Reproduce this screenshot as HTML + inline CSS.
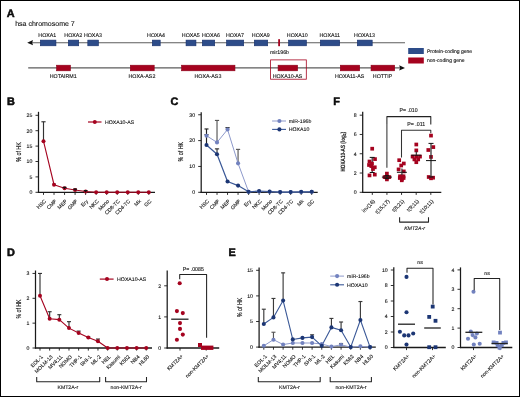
<!DOCTYPE html>
<html><head><meta charset="utf-8"><style>
html,body{margin:0;padding:0;background:#fff;}
body{width:520px;height:397px;overflow:hidden;}
.fig{position:relative;width:518px;height:395px;border:1px solid #000;background:#fff;}
svg{position:absolute;left:-1px;top:-1px;will-change:transform;}
text{font-family:"Liberation Sans",sans-serif;fill:#111;text-rendering:geometricPrecision;stroke:#1a1a1a;stroke-width:0.12px;}
</style></head><body><div class="fig">
<svg width="520" height="397" viewBox="0 0 520 397">
<text x="6.8" y="16.8" font-size="10.9" font-weight="bold" fill="#000" style="stroke:#000;stroke-width:0.5px;stroke-linejoin:round">A</text>
<text x="15.2" y="26" font-size="7" fill="#333">hsa chromosome 7</text>
<line x1="31" y1="42.7" x2="405" y2="42.7" stroke="#5c5c5c" stroke-width="1.15"/>
<path d="M27.2,42.7 L33,40.1 L32.2,42.7 L33,45.3 Z" fill="#111" stroke="none" stroke-width="1"/>
<rect x="40.3" y="40.1" width="15.65" height="5.7" fill="#2d4c89" stroke="#17306c" stroke-width="0.6"/>
<text x="47.32" y="37.3" font-size="5.3" text-anchor="middle" fill="#222">HOXA1</text>
<rect x="68.3" y="40.1" width="10.4" height="5.7" fill="#2d4c89" stroke="#17306c" stroke-width="0.6"/>
<text x="73.3" y="37.3" font-size="5.3" text-anchor="middle" fill="#222">HOXA2</text>
<rect x="87.8" y="40.1" width="10.65" height="5.7" fill="#2d4c89" stroke="#17306c" stroke-width="0.6"/>
<text x="92.92" y="37.3" font-size="5.3" text-anchor="middle" fill="#222">HOXA3</text>
<rect x="152.3" y="40.1" width="7.9" height="5.7" fill="#2d4c89" stroke="#17306c" stroke-width="0.6"/>
<text x="156.05" y="37.3" font-size="5.3" text-anchor="middle" fill="#222">HOXA4</text>
<rect x="186.05" y="40.1" width="9.9" height="5.7" fill="#2d4c89" stroke="#17306c" stroke-width="0.6"/>
<text x="190.8" y="37.3" font-size="5.3" text-anchor="middle" fill="#222">HOXA5</text>
<rect x="202.3" y="40.1" width="12.4" height="5.7" fill="#2d4c89" stroke="#17306c" stroke-width="0.6"/>
<text x="211" y="37.3" font-size="5.3" text-anchor="middle" fill="#222">HOXA6</text>
<rect x="226.55" y="40.1" width="17.15" height="5.7" fill="#2d4c89" stroke="#17306c" stroke-width="0.6"/>
<text x="234.93" y="37.3" font-size="5.3" text-anchor="middle" fill="#222">HOXA7</text>
<rect x="254.3" y="40.1" width="13.4" height="5.7" fill="#2d4c89" stroke="#17306c" stroke-width="0.6"/>
<text x="260.8" y="37.3" font-size="5.3" text-anchor="middle" fill="#222">HOXA9</text>
<rect x="288.55" y="40.1" width="17.9" height="5.7" fill="#2d4c89" stroke="#17306c" stroke-width="0.6"/>
<text x="297.3" y="37.3" font-size="5.3" text-anchor="middle" fill="#222">HOXA10</text>
<rect x="320.3" y="40.1" width="19.4" height="5.7" fill="#2d4c89" stroke="#17306c" stroke-width="0.6"/>
<text x="329.8" y="37.3" font-size="5.3" text-anchor="middle" fill="#222">HOXA11</text>
<rect x="357.3" y="40.1" width="14.9" height="5.7" fill="#2d4c89" stroke="#17306c" stroke-width="0.6"/>
<text x="364.55" y="37.3" font-size="5.3" text-anchor="middle" fill="#222">HOXA13</text>
<rect x="278.2" y="39.2" width="1.8" height="7" fill="#a5031f"/>
<text x="279.5" y="54.4" font-size="5.3" text-anchor="middle" fill="#222">mir196b</text>
<line x1="28.2" y1="67.9" x2="400" y2="67.9" stroke="#5c5c5c" stroke-width="1.15"/>
<path d="M405,67.9 L399.2,65.3 L400,67.9 L399.2,70.5 Z" fill="#111" stroke="none" stroke-width="1"/>
<rect x="56.55" y="65.2" width="13.9" height="5.6" fill="#a5031f" stroke="#8c0019" stroke-width="0.6"/>
<text x="63.2" y="77.6" font-size="5.3" text-anchor="middle" fill="#222">HOTAIRM1</text>
<rect x="130.3" y="65.2" width="23.9" height="5.6" fill="#a5031f" stroke="#8c0019" stroke-width="0.6"/>
<text x="141.95" y="77.6" font-size="5.3" text-anchor="middle" fill="#222">HOXA-AS2</text>
<rect x="181.55" y="65.2" width="53.4" height="5.6" fill="#a5031f" stroke="#8c0019" stroke-width="0.6"/>
<text x="207.95" y="77.6" font-size="5.3" text-anchor="middle" fill="#222">HOXA-AS3</text>
<rect x="278.1" y="65.2" width="19.5" height="5.6" fill="#a5031f" stroke="#8c0019" stroke-width="0.6"/>
<text x="287.55" y="77.6" font-size="5.3" text-anchor="middle" fill="#222">HOXA10-AS</text>
<rect x="340.3" y="65.2" width="19.4" height="5.6" fill="#a5031f" stroke="#8c0019" stroke-width="0.6"/>
<text x="349.7" y="77.6" font-size="5.3" text-anchor="middle" fill="#222">HOXA11-AS</text>
<rect x="371.05" y="65.2" width="23.65" height="5.6" fill="#a5031f" stroke="#8c0019" stroke-width="0.6"/>
<text x="382.57" y="77.6" font-size="5.3" text-anchor="middle" fill="#222">HOTTIP</text>
<rect x="270.6" y="59.9" width="35.7" height="19.3" fill="none" stroke="#a5031f" stroke-width="0.8"/>
<rect x="408.2" y="48" width="15.6" height="6" fill="#2d4c89"/>
<rect x="408.2" y="57.5" width="15.6" height="6" fill="#a5031f"/>
<text x="427" y="52.9" font-size="5.05" fill="#333">Protein-coding gene</text>
<text x="427" y="62.4" font-size="5.05" fill="#333">non-coding gene</text>
<text x="7" y="104.8" font-size="10.9" font-weight="bold" fill="#000" style="stroke:#000;stroke-width:0.5px;stroke-linejoin:round">B</text>
<line x1="38.5" y1="111.8" x2="38.5" y2="192.9" stroke="#1a1a1a" stroke-width="1.25"/>
<line x1="35.5" y1="192.3" x2="38.5" y2="192.3" stroke="#1a1a1a" stroke-width="0.9"/>
<text x="32.4" y="194.17" font-size="5.2" text-anchor="end">0</text>
<line x1="35.5" y1="176.9" x2="38.5" y2="176.9" stroke="#1a1a1a" stroke-width="0.9"/>
<text x="32.4" y="178.77" font-size="5.2" text-anchor="end">5</text>
<line x1="35.5" y1="161.5" x2="38.5" y2="161.5" stroke="#1a1a1a" stroke-width="0.9"/>
<text x="32.4" y="163.37" font-size="5.2" text-anchor="end">10</text>
<line x1="35.5" y1="146.1" x2="38.5" y2="146.1" stroke="#1a1a1a" stroke-width="0.9"/>
<text x="32.4" y="147.97" font-size="5.2" text-anchor="end">15</text>
<line x1="35.5" y1="130.7" x2="38.5" y2="130.7" stroke="#1a1a1a" stroke-width="0.9"/>
<text x="32.4" y="132.57" font-size="5.2" text-anchor="end">20</text>
<line x1="35.5" y1="115.3" x2="38.5" y2="115.3" stroke="#1a1a1a" stroke-width="0.9"/>
<text x="32.4" y="117.17" font-size="5.2" text-anchor="end">25</text>
<line x1="37.9" y1="192.3" x2="155" y2="192.3" stroke="#1a1a1a" stroke-width="1.3"/>
<line x1="43.5" y1="192.3" x2="43.5" y2="194.9" stroke="#1a1a1a" stroke-width="0.9"/>
<line x1="54.03" y1="192.3" x2="54.03" y2="194.9" stroke="#1a1a1a" stroke-width="0.9"/>
<line x1="64.56" y1="192.3" x2="64.56" y2="194.9" stroke="#1a1a1a" stroke-width="0.9"/>
<line x1="75.09" y1="192.3" x2="75.09" y2="194.9" stroke="#1a1a1a" stroke-width="0.9"/>
<line x1="85.62" y1="192.3" x2="85.62" y2="194.9" stroke="#1a1a1a" stroke-width="0.9"/>
<line x1="96.15" y1="192.3" x2="96.15" y2="194.9" stroke="#1a1a1a" stroke-width="0.9"/>
<line x1="106.68" y1="192.3" x2="106.68" y2="194.9" stroke="#1a1a1a" stroke-width="0.9"/>
<line x1="117.21" y1="192.3" x2="117.21" y2="194.9" stroke="#1a1a1a" stroke-width="0.9"/>
<line x1="127.74" y1="192.3" x2="127.74" y2="194.9" stroke="#1a1a1a" stroke-width="0.9"/>
<line x1="138.27" y1="192.3" x2="138.27" y2="194.9" stroke="#1a1a1a" stroke-width="0.9"/>
<line x1="148.8" y1="192.3" x2="148.8" y2="194.9" stroke="#1a1a1a" stroke-width="0.9"/>
<text x="46.5" y="201.6" font-size="5.2" text-anchor="end" transform="rotate(-45 46.5 201.6)">HSC</text>
<text x="57.03" y="201.6" font-size="5.2" text-anchor="end" transform="rotate(-45 57.03 201.6)">CMP</text>
<text x="67.56" y="201.6" font-size="5.2" text-anchor="end" transform="rotate(-45 67.56 201.6)">MEP</text>
<text x="78.09" y="201.6" font-size="5.2" text-anchor="end" transform="rotate(-45 78.09 201.6)">GMP</text>
<text x="88.62" y="201.6" font-size="5.2" text-anchor="end" transform="rotate(-45 88.62 201.6)">Ery</text>
<text x="99.15" y="201.6" font-size="5.2" text-anchor="end" transform="rotate(-45 99.15 201.6)">NKC</text>
<text x="109.68" y="201.6" font-size="5.2" text-anchor="end" transform="rotate(-45 109.68 201.6)">Mono</text>
<text x="120.21" y="201.6" font-size="5.2" text-anchor="end" transform="rotate(-45 120.21 201.6)">CD8-TC</text>
<text x="130.74" y="201.6" font-size="5.2" text-anchor="end" transform="rotate(-45 130.74 201.6)">CD4-TC</text>
<text x="141.27" y="201.6" font-size="5.2" text-anchor="end" transform="rotate(-45 141.27 201.6)">Mk</text>
<text x="151.8" y="201.6" font-size="5.2" text-anchor="end" transform="rotate(-45 151.8 201.6)">GC</text>
<line x1="43.5" y1="141.17" x2="43.5" y2="121.77" stroke="#333" stroke-width="1.15"/>
<line x1="41.4" y1="121.77" x2="45.6" y2="121.77" stroke="#333" stroke-width="1.15"/>
<line x1="54.03" y1="184.75" x2="54.03" y2="183.68" stroke="#333" stroke-width="1.15"/>
<line x1="52.73" y1="183.68" x2="55.33" y2="183.68" stroke="#333" stroke-width="1.15"/>
<line x1="64.56" y1="188.3" x2="64.56" y2="187.37" stroke="#333" stroke-width="1.15"/>
<line x1="63.26" y1="187.37" x2="65.86" y2="187.37" stroke="#333" stroke-width="1.15"/>
<line x1="75.09" y1="189.99" x2="75.09" y2="189.22" stroke="#333" stroke-width="1.15"/>
<line x1="73.79" y1="189.22" x2="76.39" y2="189.22" stroke="#333" stroke-width="1.15"/>
<polyline points="43.5,141.17 54.03,184.75 64.56,188.3 75.09,189.99 85.62,191.53 96.15,192.3 106.68,192.3 117.21,192.3 127.74,192.3 138.27,192.3 148.8,192.3" stroke="#a5031f" stroke-width="1.1" fill="none" stroke-linejoin="round"/>
<circle cx="43.5" cy="141.17" r="2" fill="#a5031f"/>
<circle cx="54.03" cy="184.75" r="2" fill="#a5031f"/>
<circle cx="64.56" cy="188.3" r="2" fill="#a5031f"/>
<circle cx="75.09" cy="189.99" r="2" fill="#a5031f"/>
<circle cx="85.62" cy="191.53" r="2" fill="#a5031f"/>
<circle cx="96.15" cy="192.3" r="2" fill="#a5031f"/>
<circle cx="106.68" cy="192.3" r="2" fill="#a5031f"/>
<circle cx="117.21" cy="192.3" r="2" fill="#a5031f"/>
<circle cx="127.74" cy="192.3" r="2" fill="#a5031f"/>
<circle cx="138.27" cy="192.3" r="2" fill="#a5031f"/>
<circle cx="148.8" cy="192.3" r="2" fill="#a5031f"/>
<line x1="64.56" y1="189.1" x2="64.56" y2="187.4" stroke="#111" stroke-width="1.1"/>
<line x1="62.66" y1="187.4" x2="66.46" y2="187.4" stroke="#111" stroke-width="1.2"/>
<line x1="75.09" y1="190.79" x2="75.09" y2="189.09" stroke="#111" stroke-width="1.1"/>
<line x1="73.19" y1="189.09" x2="76.99" y2="189.09" stroke="#111" stroke-width="1.2"/>
<line x1="85.62" y1="192.33" x2="85.62" y2="190.63" stroke="#111" stroke-width="1.1"/>
<line x1="83.72" y1="190.63" x2="87.52" y2="190.63" stroke="#111" stroke-width="1.2"/>
<line x1="88" y1="122" x2="101.5" y2="122" stroke="#a5031f" stroke-width="1.2"/>
<circle cx="94.8" cy="122" r="2" fill="#a5031f"/>
<text x="105" y="124" font-size="5.2">HOXA10-AS</text>
<text x="21" y="152" font-size="7" text-anchor="middle" textLength="19.6" lengthAdjust="spacingAndGlyphs" transform="rotate(-90 21 152)" style="stroke-width:0.16px">% of HK</text>
<text x="170.6" y="104.8" font-size="10.9" font-weight="bold" fill="#000" style="stroke:#000;stroke-width:0.5px;stroke-linejoin:round">C</text>
<line x1="201.2" y1="112.2" x2="201.2" y2="192.9" stroke="#1a1a1a" stroke-width="1.25"/>
<line x1="198.2" y1="192.3" x2="201.2" y2="192.3" stroke="#1a1a1a" stroke-width="0.9"/>
<text x="195.1" y="194.17" font-size="5.2" text-anchor="end">0</text>
<line x1="198.2" y1="166.45" x2="201.2" y2="166.45" stroke="#1a1a1a" stroke-width="0.9"/>
<text x="195.1" y="168.32" font-size="5.2" text-anchor="end">10</text>
<line x1="198.2" y1="140.6" x2="201.2" y2="140.6" stroke="#1a1a1a" stroke-width="0.9"/>
<text x="195.1" y="142.47" font-size="5.2" text-anchor="end">20</text>
<line x1="198.2" y1="114.75" x2="201.2" y2="114.75" stroke="#1a1a1a" stroke-width="0.9"/>
<text x="195.1" y="116.62" font-size="5.2" text-anchor="end">30</text>
<line x1="200.6" y1="192.3" x2="317.7" y2="192.3" stroke="#1a1a1a" stroke-width="1.3"/>
<line x1="206.5" y1="192.3" x2="206.5" y2="194.9" stroke="#1a1a1a" stroke-width="0.9"/>
<line x1="217.02" y1="192.3" x2="217.02" y2="194.9" stroke="#1a1a1a" stroke-width="0.9"/>
<line x1="227.54" y1="192.3" x2="227.54" y2="194.9" stroke="#1a1a1a" stroke-width="0.9"/>
<line x1="238.06" y1="192.3" x2="238.06" y2="194.9" stroke="#1a1a1a" stroke-width="0.9"/>
<line x1="248.58" y1="192.3" x2="248.58" y2="194.9" stroke="#1a1a1a" stroke-width="0.9"/>
<line x1="259.1" y1="192.3" x2="259.1" y2="194.9" stroke="#1a1a1a" stroke-width="0.9"/>
<line x1="269.62" y1="192.3" x2="269.62" y2="194.9" stroke="#1a1a1a" stroke-width="0.9"/>
<line x1="280.14" y1="192.3" x2="280.14" y2="194.9" stroke="#1a1a1a" stroke-width="0.9"/>
<line x1="290.66" y1="192.3" x2="290.66" y2="194.9" stroke="#1a1a1a" stroke-width="0.9"/>
<line x1="301.18" y1="192.3" x2="301.18" y2="194.9" stroke="#1a1a1a" stroke-width="0.9"/>
<line x1="311.7" y1="192.3" x2="311.7" y2="194.9" stroke="#1a1a1a" stroke-width="0.9"/>
<text x="209.5" y="201.6" font-size="5.2" text-anchor="end" transform="rotate(-45 209.5 201.6)">HSC</text>
<text x="220.02" y="201.6" font-size="5.2" text-anchor="end" transform="rotate(-45 220.02 201.6)">CMP</text>
<text x="230.54" y="201.6" font-size="5.2" text-anchor="end" transform="rotate(-45 230.54 201.6)">MEP</text>
<text x="241.06" y="201.6" font-size="5.2" text-anchor="end" transform="rotate(-45 241.06 201.6)">GMP</text>
<text x="251.58" y="201.6" font-size="5.2" text-anchor="end" transform="rotate(-45 251.58 201.6)">Ery</text>
<text x="262.1" y="201.6" font-size="5.2" text-anchor="end" transform="rotate(-45 262.1 201.6)">NKC</text>
<text x="272.62" y="201.6" font-size="5.2" text-anchor="end" transform="rotate(-45 272.62 201.6)">Mono</text>
<text x="283.14" y="201.6" font-size="5.2" text-anchor="end" transform="rotate(-45 283.14 201.6)">CD8-TC</text>
<text x="293.66" y="201.6" font-size="5.2" text-anchor="end" transform="rotate(-45 293.66 201.6)">CD4-TC</text>
<text x="304.18" y="201.6" font-size="5.2" text-anchor="end" transform="rotate(-45 304.18 201.6)">Mk</text>
<text x="314.7" y="201.6" font-size="5.2" text-anchor="end" transform="rotate(-45 314.7 201.6)">GC</text>
<line x1="206.5" y1="144.99" x2="206.5" y2="134.65" stroke="#222" stroke-width="1.15"/>
<line x1="204.5" y1="134.65" x2="208.5" y2="134.65" stroke="#222" stroke-width="1.15"/>
<line x1="206.5" y1="135.69" x2="206.5" y2="128.97" stroke="#222" stroke-width="1.15"/>
<line x1="204.5" y1="128.97" x2="208.5" y2="128.97" stroke="#222" stroke-width="1.15"/>
<line x1="217.02" y1="142.41" x2="217.02" y2="120.44" stroke="#555" stroke-width="1.15"/>
<line x1="214.92" y1="120.44" x2="219.12" y2="120.44" stroke="#555" stroke-width="1.15"/>
<line x1="217.02" y1="154.3" x2="217.02" y2="148.87" stroke="#333" stroke-width="1.15"/>
<line x1="214.92" y1="148.87" x2="219.12" y2="148.87" stroke="#333" stroke-width="1.15"/>
<line x1="227.54" y1="129.48" x2="227.54" y2="127.68" stroke="#222" stroke-width="1.15"/>
<line x1="225.44" y1="127.68" x2="229.64" y2="127.68" stroke="#222" stroke-width="1.15"/>
<line x1="238.06" y1="163.35" x2="238.06" y2="149.39" stroke="#555" stroke-width="1.15"/>
<line x1="235.96" y1="149.39" x2="240.16" y2="149.39" stroke="#555" stroke-width="1.15"/>
<polyline points="206.5,135.69 217.02,142.41 227.54,129.48 238.06,163.35 248.58,191.78 259.1,191.52 269.62,191.78 280.14,192.04 290.66,192.04 301.18,192.04 311.7,191.78" stroke="#8d99cb" stroke-width="1" fill="none" stroke-linejoin="round"/>
<polyline points="206.5,144.99 217.02,154.3 227.54,181.44 238.06,185.58 248.58,191.78 259.1,191.01 269.62,191.52 280.14,192.04 290.66,192.04 301.18,191.78 311.7,191.78" stroke="#3a5897" stroke-width="1.2" fill="none" stroke-linejoin="round"/>
<circle cx="206.5" cy="135.69" r="2.05" fill="#7282bf"/>
<circle cx="217.02" cy="142.41" r="2.05" fill="#7282bf"/>
<circle cx="227.54" cy="129.48" r="2.05" fill="#7282bf"/>
<circle cx="238.06" cy="163.35" r="2.05" fill="#7282bf"/>
<circle cx="248.58" cy="191.78" r="2.05" fill="#7282bf"/>
<circle cx="259.1" cy="191.52" r="2.05" fill="#7282bf"/>
<circle cx="269.62" cy="191.78" r="2.05" fill="#7282bf"/>
<circle cx="280.14" cy="192.04" r="2.05" fill="#7282bf"/>
<circle cx="290.66" cy="192.04" r="2.05" fill="#7282bf"/>
<circle cx="301.18" cy="192.04" r="2.05" fill="#7282bf"/>
<circle cx="311.7" cy="191.78" r="2.05" fill="#7282bf"/>
<circle cx="206.5" cy="144.99" r="2.05" fill="#1c3674"/>
<circle cx="217.02" cy="154.3" r="2.05" fill="#1c3674"/>
<circle cx="227.54" cy="181.44" r="2.05" fill="#1c3674"/>
<circle cx="238.06" cy="185.58" r="2.05" fill="#1c3674"/>
<circle cx="248.58" cy="191.78" r="2.05" fill="#1c3674"/>
<circle cx="259.1" cy="191.01" r="2.05" fill="#1c3674"/>
<circle cx="269.62" cy="191.52" r="2.05" fill="#1c3674"/>
<circle cx="280.14" cy="192.04" r="2.05" fill="#1c3674"/>
<circle cx="290.66" cy="192.04" r="2.05" fill="#1c3674"/>
<circle cx="301.18" cy="191.78" r="2.05" fill="#1c3674"/>
<circle cx="311.7" cy="191.78" r="2.05" fill="#1c3674"/>
<line x1="272.1" y1="121" x2="286" y2="121" stroke="#8d99cb" stroke-width="1"/>
<circle cx="279.4" cy="121" r="2.05" fill="#7282bf"/>
<text x="288.8" y="123" font-size="5.2">miR-196b</text>
<line x1="272.1" y1="129.4" x2="286" y2="129.4" stroke="#3a5897" stroke-width="1.1"/>
<circle cx="279.4" cy="129.4" r="2.05" fill="#1c3674"/>
<text x="288.8" y="131.4" font-size="5.2">HOXA10</text>
<text x="183.4" y="151.7" font-size="7" text-anchor="middle" textLength="19.4" lengthAdjust="spacingAndGlyphs" transform="rotate(-90 183.4 151.7)" style="stroke-width:0.16px">% of HK</text>
<text x="333.3" y="104.8" font-size="10.9" font-weight="bold" fill="#000" style="stroke:#000;stroke-width:0.5px;stroke-linejoin:round">F</text>
<line x1="362.7" y1="111.8" x2="362.7" y2="192.9" stroke="#1a1a1a" stroke-width="1.25"/>
<line x1="359.7" y1="192.3" x2="362.7" y2="192.3" stroke="#1a1a1a" stroke-width="0.9"/>
<text x="356.6" y="194.17" font-size="5.2" text-anchor="end">0</text>
<line x1="359.7" y1="173.02" x2="362.7" y2="173.02" stroke="#1a1a1a" stroke-width="0.9"/>
<text x="356.6" y="174.89" font-size="5.2" text-anchor="end">2</text>
<line x1="359.7" y1="153.74" x2="362.7" y2="153.74" stroke="#1a1a1a" stroke-width="0.9"/>
<text x="356.6" y="155.61" font-size="5.2" text-anchor="end">4</text>
<line x1="359.7" y1="134.46" x2="362.7" y2="134.46" stroke="#1a1a1a" stroke-width="0.9"/>
<text x="356.6" y="136.33" font-size="5.2" text-anchor="end">6</text>
<line x1="359.7" y1="115.18" x2="362.7" y2="115.18" stroke="#1a1a1a" stroke-width="0.9"/>
<text x="356.6" y="117.05" font-size="5.2" text-anchor="end">8</text>
<line x1="362.1" y1="192.3" x2="441.3" y2="192.3" stroke="#1a1a1a" stroke-width="1.3"/>
<line x1="372.3" y1="192.3" x2="372.3" y2="194.9" stroke="#1a1a1a" stroke-width="0.9"/>
<line x1="386.93" y1="192.3" x2="386.93" y2="194.9" stroke="#1a1a1a" stroke-width="0.9"/>
<line x1="401.56" y1="192.3" x2="401.56" y2="194.9" stroke="#1a1a1a" stroke-width="0.9"/>
<line x1="416.19" y1="192.3" x2="416.19" y2="194.9" stroke="#1a1a1a" stroke-width="0.9"/>
<line x1="430.82" y1="192.3" x2="430.82" y2="194.9" stroke="#1a1a1a" stroke-width="0.9"/>
<text x="375.3" y="201.6" font-size="5.2" text-anchor="end" transform="rotate(-45 375.3 201.6)">inv(16)</text>
<text x="389.93" y="201.6" font-size="5.2" text-anchor="end" transform="rotate(-45 389.93 201.6)">t(15;17)</text>
<text x="404.56" y="201.6" font-size="5.2" text-anchor="end" transform="rotate(-45 404.56 201.6)">t(8;21)</text>
<text x="419.19" y="201.6" font-size="5.2" text-anchor="end" transform="rotate(-45 419.19 201.6)">t(9;11)</text>
<text x="433.82" y="201.6" font-size="5.2" text-anchor="end" transform="rotate(-45 433.82 201.6)">t(10;11)</text>
<polyline points="386.9,124 386.9,116.6 430.8,116.6 430.8,124.6" stroke="#222" stroke-width="1.05" fill="none" stroke-linejoin="round"/>
<polyline points="401.5,157.6 401.5,130.3 430.8,130.3 430.8,133.2" stroke="#333" stroke-width="1.05" fill="none" stroke-linejoin="round"/>
<line x1="386.9" y1="124" x2="386.9" y2="167.8" stroke="#333" stroke-width="1.05"/>
<text x="408.6" y="112.4" font-size="5.8" text-anchor="middle" textLength="18" lengthAdjust="spacingAndGlyphs">P= .010</text>
<text x="416.2" y="126.1" font-size="5.8" text-anchor="middle" textLength="18" lengthAdjust="spacingAndGlyphs">P= .011</text>
<line x1="372.2" y1="172.5" x2="372.2" y2="157.4" stroke="#2a2a2a" stroke-width="1.2"/>
<rect x="370.35" y="146.85" width="3.7" height="3.7" fill="#a5031f"/>
<rect x="373.15" y="157.25" width="3.7" height="3.7" fill="#a5031f"/>
<rect x="367.65" y="159.65" width="3.7" height="3.7" fill="#a5031f"/>
<rect x="367.15" y="163.15" width="3.7" height="3.7" fill="#a5031f"/>
<rect x="369.45" y="164.25" width="3.7" height="3.7" fill="#a5031f"/>
<rect x="372.95" y="165.45" width="3.7" height="3.7" fill="#a5031f"/>
<rect x="371.15" y="167.15" width="3.7" height="3.7" fill="#a5031f"/>
<rect x="370.15" y="161.65" width="3.7" height="3.7" fill="#a5031f"/>
<rect x="367.65" y="173.55" width="3.7" height="3.7" fill="#a5031f"/>
<rect x="372.95" y="172.75" width="3.7" height="3.7" fill="#a5031f"/>
<rect x="385.05" y="171.75" width="3.7" height="3.7" fill="#a5031f"/>
<rect x="382.75" y="175.25" width="3.7" height="3.7" fill="#a5031f"/>
<rect x="387.45" y="175.25" width="3.7" height="3.7" fill="#a5031f"/>
<rect x="385.05" y="177.55" width="3.7" height="3.7" fill="#a5031f"/>
<rect x="385.05" y="175.65" width="3.7" height="3.7" fill="#a5031f"/>
<rect x="397.35" y="158.35" width="3.7" height="3.7" fill="#a5031f"/>
<rect x="401.95" y="161.65" width="3.7" height="3.7" fill="#a5031f"/>
<rect x="399.35" y="163.65" width="3.7" height="3.7" fill="#a5031f"/>
<rect x="396.75" y="167.55" width="3.7" height="3.7" fill="#a5031f"/>
<rect x="401.95" y="169.55" width="3.7" height="3.7" fill="#a5031f"/>
<rect x="398.15" y="174.45" width="3.7" height="3.7" fill="#a5031f"/>
<rect x="401.65" y="174.45" width="3.7" height="3.7" fill="#a5031f"/>
<rect x="399.95" y="174.65" width="3.7" height="3.7" fill="#a5031f"/>
<rect x="399.95" y="177.15" width="3.7" height="3.7" fill="#a5031f"/>
<rect x="399.95" y="178.45" width="3.7" height="3.7" fill="#a5031f"/>
<rect x="397.95" y="176.15" width="3.7" height="3.7" fill="#a5031f"/>
<rect x="401.75" y="176.15" width="3.7" height="3.7" fill="#a5031f"/>
<rect x="414.45" y="142.65" width="3.7" height="3.7" fill="#a5031f"/>
<rect x="414.45" y="148.55" width="3.7" height="3.7" fill="#a5031f"/>
<rect x="410.75" y="154.75" width="3.7" height="3.7" fill="#a5031f"/>
<rect x="414.45" y="154.75" width="3.7" height="3.7" fill="#a5031f"/>
<rect x="418.15" y="154.75" width="3.7" height="3.7" fill="#a5031f"/>
<rect x="412.55" y="157.55" width="3.7" height="3.7" fill="#a5031f"/>
<rect x="416.35" y="157.55" width="3.7" height="3.7" fill="#a5031f"/>
<rect x="414.45" y="160.35" width="3.7" height="3.7" fill="#a5031f"/>
<rect x="429.15" y="133.75" width="3.7" height="3.7" fill="#a5031f"/>
<rect x="431.45" y="145.25" width="3.7" height="3.7" fill="#a5031f"/>
<rect x="426.45" y="148.15" width="3.7" height="3.7" fill="#a5031f"/>
<rect x="429.15" y="155.05" width="3.7" height="3.7" fill="#a5031f"/>
<rect x="426.85" y="175.15" width="3.7" height="3.7" fill="#a5031f"/>
<rect x="431.25" y="175.85" width="3.7" height="3.7" fill="#a5031f"/>
<rect x="429.15" y="176.45" width="3.7" height="3.7" fill="#a5031f"/>
<line x1="386.9" y1="178.6" x2="386.9" y2="175.6" stroke="#2a2a2a" stroke-width="1.2"/>
<line x1="384.4" y1="175.6" x2="389.4" y2="175.6" stroke="#111" stroke-width="1"/>
<line x1="384.4" y1="178.6" x2="389.4" y2="178.6" stroke="#111" stroke-width="1"/>
<line x1="381.9" y1="177.1" x2="391.9" y2="177.1" stroke="#111" stroke-width="1"/>
<line x1="431" y1="177" x2="431" y2="143.4" stroke="#2a2a2a" stroke-width="1.2"/>
<line x1="428.5" y1="143.4" x2="433.5" y2="143.4" stroke="#111" stroke-width="1"/>
<line x1="428.5" y1="177" x2="433.5" y2="177" stroke="#111" stroke-width="1"/>
<line x1="426" y1="160.6" x2="436" y2="160.6" stroke="#111" stroke-width="1"/>
<line x1="396.9" y1="172.3" x2="406.9" y2="172.3" stroke="#111" stroke-width="1"/>
<line x1="401.9" y1="168.5" x2="401.9" y2="175" stroke="#2a2a2a" stroke-width="1.1"/>
<line x1="411.3" y1="155.2" x2="421.3" y2="155.2" stroke="#111" stroke-width="1"/>
<line x1="416.3" y1="151.5" x2="416.3" y2="155" stroke="#2a2a2a" stroke-width="1.1"/>
<line x1="369.7" y1="157.4" x2="374.7" y2="157.4" stroke="#111" stroke-width="1"/>
<line x1="369.7" y1="172.5" x2="374.7" y2="172.5" stroke="#111" stroke-width="1"/>
<text x="345.3" y="151.7" font-size="6.2" text-anchor="middle" font-weight="bold" textLength="39.6" lengthAdjust="spacingAndGlyphs" transform="rotate(-90 345.3 151.7)">HOXA10-AS (log<tspan font-size="4.2" dy="1.2">2</tspan><tspan dy="-1.2">)</tspan></text>
<polyline points="399.6,217.3 399.6,222.1 428.5,222.1 428.5,217.3" stroke="#222" stroke-width="1.05" fill="none" stroke-linejoin="round"/>
<text x="414.5" y="230.1" font-size="5.2" text-anchor="middle" font-style="italic">KMT2A-r</text>
<text x="7" y="256" font-size="10.9" font-weight="bold" fill="#000" style="stroke:#000;stroke-width:0.5px;stroke-linejoin:round">D</text>
<line x1="35.5" y1="270.5" x2="35.5" y2="348.6" stroke="#1a1a1a" stroke-width="1.25"/>
<line x1="32.5" y1="348" x2="35.5" y2="348" stroke="#1a1a1a" stroke-width="0.9"/>
<text x="29.4" y="349.87" font-size="5.2" text-anchor="end">0</text>
<line x1="32.5" y1="323.15" x2="35.5" y2="323.15" stroke="#1a1a1a" stroke-width="0.9"/>
<text x="29.4" y="325.02" font-size="5.2" text-anchor="end">1</text>
<line x1="32.5" y1="298.3" x2="35.5" y2="298.3" stroke="#1a1a1a" stroke-width="0.9"/>
<text x="29.4" y="300.17" font-size="5.2" text-anchor="end">2</text>
<line x1="32.5" y1="273.45" x2="35.5" y2="273.45" stroke="#1a1a1a" stroke-width="0.9"/>
<text x="29.4" y="275.32" font-size="5.2" text-anchor="end">3</text>
<line x1="34.9" y1="348" x2="152" y2="348" stroke="#1a1a1a" stroke-width="1.3"/>
<line x1="40" y1="348" x2="40" y2="350.6" stroke="#1a1a1a" stroke-width="0.9"/>
<line x1="49.66" y1="348" x2="49.66" y2="350.6" stroke="#1a1a1a" stroke-width="0.9"/>
<line x1="59.32" y1="348" x2="59.32" y2="350.6" stroke="#1a1a1a" stroke-width="0.9"/>
<line x1="68.98" y1="348" x2="68.98" y2="350.6" stroke="#1a1a1a" stroke-width="0.9"/>
<line x1="78.64" y1="348" x2="78.64" y2="350.6" stroke="#1a1a1a" stroke-width="0.9"/>
<line x1="88.3" y1="348" x2="88.3" y2="350.6" stroke="#1a1a1a" stroke-width="0.9"/>
<line x1="97.96" y1="348" x2="97.96" y2="350.6" stroke="#1a1a1a" stroke-width="0.9"/>
<line x1="107.62" y1="348" x2="107.62" y2="350.6" stroke="#1a1a1a" stroke-width="0.9"/>
<line x1="117.28" y1="348" x2="117.28" y2="350.6" stroke="#1a1a1a" stroke-width="0.9"/>
<line x1="126.94" y1="348" x2="126.94" y2="350.6" stroke="#1a1a1a" stroke-width="0.9"/>
<line x1="136.6" y1="348" x2="136.6" y2="350.6" stroke="#1a1a1a" stroke-width="0.9"/>
<line x1="146.26" y1="348" x2="146.26" y2="350.6" stroke="#1a1a1a" stroke-width="0.9"/>
<text x="43.4" y="357.2" font-size="5.2" text-anchor="end" transform="rotate(-45 43.4 357.2)">EOL-1</text>
<text x="53.06" y="357.2" font-size="5.2" text-anchor="end" transform="rotate(-45 53.06 357.2)">MOLM-13</text>
<text x="62.72" y="357.2" font-size="5.2" text-anchor="end" transform="rotate(-45 62.72 357.2)">MV4;11</text>
<text x="72.38" y="357.2" font-size="5.2" text-anchor="end" transform="rotate(-45 72.38 357.2)">NOMO</text>
<text x="82.04" y="357.2" font-size="5.2" text-anchor="end" transform="rotate(-45 82.04 357.2)">THP-1</text>
<text x="91.7" y="357.2" font-size="5.2" text-anchor="end" transform="rotate(-45 91.7 357.2)">SHI-1</text>
<text x="101.36" y="357.2" font-size="5.2" text-anchor="end" transform="rotate(-45 101.36 357.2)">ML-2</text>
<text x="111.02" y="357.2" font-size="5.2" text-anchor="end" transform="rotate(-45 111.02 357.2)">HEL</text>
<text x="120.68" y="357.2" font-size="5.2" text-anchor="end" transform="rotate(-45 120.68 357.2)">Kasumi</text>
<text x="130.34" y="357.2" font-size="5.2" text-anchor="end" transform="rotate(-45 130.34 357.2)">K562</text>
<text x="140" y="357.2" font-size="5.2" text-anchor="end" transform="rotate(-45 140 357.2)">NB4</text>
<text x="149.66" y="357.2" font-size="5.2" text-anchor="end" transform="rotate(-45 149.66 357.2)">HL60</text>
<line x1="40" y1="295.81" x2="40" y2="273.45" stroke="#333" stroke-width="1.15"/>
<line x1="38" y1="273.45" x2="42" y2="273.45" stroke="#333" stroke-width="1.15"/>
<line x1="49.66" y1="318.68" x2="49.66" y2="311.72" stroke="#333" stroke-width="1.15"/>
<line x1="47.66" y1="311.72" x2="51.66" y2="311.72" stroke="#333" stroke-width="1.15"/>
<line x1="59.32" y1="319.67" x2="59.32" y2="314.7" stroke="#333" stroke-width="1.15"/>
<line x1="57.32" y1="314.7" x2="61.32" y2="314.7" stroke="#333" stroke-width="1.15"/>
<line x1="68.98" y1="328.12" x2="68.98" y2="321.66" stroke="#333" stroke-width="1.15"/>
<line x1="66.98" y1="321.66" x2="70.98" y2="321.66" stroke="#333" stroke-width="1.15"/>
<line x1="78.64" y1="333.09" x2="78.64" y2="331.1" stroke="#333" stroke-width="1.15"/>
<line x1="76.64" y1="331.1" x2="80.64" y2="331.1" stroke="#333" stroke-width="1.15"/>
<line x1="88.3" y1="337.56" x2="88.3" y2="336.82" stroke="#333" stroke-width="1.15"/>
<line x1="86.3" y1="336.82" x2="90.3" y2="336.82" stroke="#333" stroke-width="1.15"/>
<line x1="97.96" y1="341.29" x2="97.96" y2="339.05" stroke="#333" stroke-width="1.15"/>
<line x1="95.96" y1="339.05" x2="99.96" y2="339.05" stroke="#333" stroke-width="1.15"/>
<polyline points="40,295.81 49.66,318.68 59.32,319.67 68.98,328.12 78.64,333.09 88.3,337.56 97.96,341.29 107.62,348 117.28,348 126.94,348 136.6,348 146.26,348" stroke="#a5031f" stroke-width="1.1" fill="none" stroke-linejoin="round"/>
<circle cx="40" cy="295.81" r="2" fill="#a5031f"/>
<circle cx="49.66" cy="318.68" r="2" fill="#a5031f"/>
<circle cx="59.32" cy="319.67" r="2" fill="#a5031f"/>
<circle cx="68.98" cy="328.12" r="2" fill="#a5031f"/>
<circle cx="78.64" cy="333.09" r="2" fill="#a5031f"/>
<circle cx="88.3" cy="337.56" r="2" fill="#a5031f"/>
<circle cx="97.96" cy="341.29" r="2" fill="#a5031f"/>
<circle cx="107.62" cy="348" r="2" fill="#a5031f"/>
<circle cx="117.28" cy="348" r="2" fill="#a5031f"/>
<circle cx="126.94" cy="348" r="2" fill="#a5031f"/>
<circle cx="136.6" cy="348" r="2" fill="#a5031f"/>
<circle cx="146.26" cy="348" r="2" fill="#a5031f"/>
<line x1="99.8" y1="279.1" x2="113.6" y2="279.1" stroke="#a5031f" stroke-width="1.2"/>
<circle cx="107" cy="279.1" r="2" fill="#a5031f"/>
<text x="117.1" y="281" font-size="5.2">HOXA10-AS</text>
<text x="21.1" y="309" font-size="7" text-anchor="middle" textLength="19.2" lengthAdjust="spacingAndGlyphs" transform="rotate(-90 21.1 309)" style="stroke-width:0.16px">% of HK</text>
<polyline points="36.7,376.9 36.7,381.7 99.7,381.7 99.7,376.9" stroke="#222" stroke-width="1.05" fill="none" stroke-linejoin="round"/>
<polyline points="105.6,376.9 105.6,381.7 146.5,381.7 146.5,376.9" stroke="#222" stroke-width="1.05" fill="none" stroke-linejoin="round"/>
<text x="67.8" y="389" font-size="5.2" text-anchor="middle">KMT2A-r</text>
<text x="126.1" y="389" font-size="5.2" text-anchor="middle">non-KMT2A-r</text>
<line x1="167.2" y1="270.4" x2="167.2" y2="348.6" stroke="#1a1a1a" stroke-width="1.25"/>
<line x1="164.2" y1="348" x2="167.2" y2="348" stroke="#1a1a1a" stroke-width="0.9"/>
<text x="161.1" y="349.87" font-size="5.2" text-anchor="end">0</text>
<line x1="164.2" y1="316.9" x2="167.2" y2="316.9" stroke="#1a1a1a" stroke-width="0.9"/>
<text x="161.1" y="318.77" font-size="5.2" text-anchor="end">1</text>
<line x1="164.2" y1="285.8" x2="167.2" y2="285.8" stroke="#1a1a1a" stroke-width="0.9"/>
<text x="161.1" y="287.67" font-size="5.2" text-anchor="end">2</text>
<line x1="166.6" y1="348" x2="219.2" y2="348" stroke="#1a1a1a" stroke-width="1.3"/>
<line x1="180" y1="348" x2="180" y2="350.6" stroke="#1a1a1a" stroke-width="0.9"/>
<line x1="206.2" y1="348" x2="206.2" y2="350.6" stroke="#1a1a1a" stroke-width="0.9"/>
<circle cx="179.7" cy="283.2" r="2.05" fill="#a5031f"/>
<circle cx="176.9" cy="311.1" r="2.05" fill="#a5031f"/>
<circle cx="182.8" cy="313.1" r="2.05" fill="#a5031f"/>
<circle cx="180" cy="323.1" r="2.05" fill="#a5031f"/>
<circle cx="180" cy="328.9" r="2.05" fill="#a5031f"/>
<circle cx="182.8" cy="334.6" r="2.05" fill="#a5031f"/>
<circle cx="176.9" cy="339.7" r="2.05" fill="#a5031f"/>
<line x1="171.2" y1="319.2" x2="188.5" y2="319.2" stroke="#222" stroke-width="1.3"/>
<polyline points="179.7,279.2 179.7,274.5 206.6,274.5 206.6,337.7" stroke="#222" stroke-width="1.05" fill="none" stroke-linejoin="round"/>
<text x="193.3" y="270.5" font-size="5.8" text-anchor="middle" textLength="21" lengthAdjust="spacingAndGlyphs">P= .0085</text>
<rect x="201" y="345.6" width="12.4" height="4.3" fill="#a5031f"/>
<rect x="198" y="343" width="4" height="4" fill="#a5031f"/>
<text x="183.5" y="356.5" font-size="5.2" text-anchor="end" transform="rotate(-45 183.5 356.5)">KMT2A+</text>
<text x="209.2" y="356.5" font-size="5.2" text-anchor="end" transform="rotate(-45 209.2 356.5)">non-KMT2A+</text>
<text x="228.4" y="256" font-size="10.9" font-weight="bold" fill="#000" style="stroke:#000;stroke-width:0.5px;stroke-linejoin:round">E</text>
<line x1="259.1" y1="267.4" x2="259.1" y2="347.7" stroke="#1a1a1a" stroke-width="1.25"/>
<line x1="256.1" y1="347.1" x2="259.1" y2="347.1" stroke="#1a1a1a" stroke-width="0.9"/>
<text x="253" y="348.97" font-size="5.2" text-anchor="end">0</text>
<line x1="256.1" y1="321.5" x2="259.1" y2="321.5" stroke="#1a1a1a" stroke-width="0.9"/>
<text x="253" y="323.37" font-size="5.2" text-anchor="end">5</text>
<line x1="256.1" y1="295.9" x2="259.1" y2="295.9" stroke="#1a1a1a" stroke-width="0.9"/>
<text x="253" y="297.77" font-size="5.2" text-anchor="end">10</text>
<line x1="256.1" y1="270.3" x2="259.1" y2="270.3" stroke="#1a1a1a" stroke-width="0.9"/>
<text x="253" y="272.17" font-size="5.2" text-anchor="end">15</text>
<line x1="258.5" y1="347.1" x2="375.8" y2="347.1" stroke="#1a1a1a" stroke-width="1.3"/>
<line x1="263.8" y1="347.1" x2="263.8" y2="349.7" stroke="#1a1a1a" stroke-width="0.9"/>
<line x1="273.46" y1="347.1" x2="273.46" y2="349.7" stroke="#1a1a1a" stroke-width="0.9"/>
<line x1="283.12" y1="347.1" x2="283.12" y2="349.7" stroke="#1a1a1a" stroke-width="0.9"/>
<line x1="292.78" y1="347.1" x2="292.78" y2="349.7" stroke="#1a1a1a" stroke-width="0.9"/>
<line x1="302.44" y1="347.1" x2="302.44" y2="349.7" stroke="#1a1a1a" stroke-width="0.9"/>
<line x1="312.1" y1="347.1" x2="312.1" y2="349.7" stroke="#1a1a1a" stroke-width="0.9"/>
<line x1="321.76" y1="347.1" x2="321.76" y2="349.7" stroke="#1a1a1a" stroke-width="0.9"/>
<line x1="331.42" y1="347.1" x2="331.42" y2="349.7" stroke="#1a1a1a" stroke-width="0.9"/>
<line x1="341.08" y1="347.1" x2="341.08" y2="349.7" stroke="#1a1a1a" stroke-width="0.9"/>
<line x1="350.74" y1="347.1" x2="350.74" y2="349.7" stroke="#1a1a1a" stroke-width="0.9"/>
<line x1="360.4" y1="347.1" x2="360.4" y2="349.7" stroke="#1a1a1a" stroke-width="0.9"/>
<line x1="370.06" y1="347.1" x2="370.06" y2="349.7" stroke="#1a1a1a" stroke-width="0.9"/>
<text x="267.2" y="356.8" font-size="5.2" text-anchor="end" transform="rotate(-45 267.2 356.8)">EOL-1</text>
<text x="276.86" y="356.8" font-size="5.2" text-anchor="end" transform="rotate(-45 276.86 356.8)">MOLM-13</text>
<text x="286.52" y="356.8" font-size="5.2" text-anchor="end" transform="rotate(-45 286.52 356.8)">MV4;11</text>
<text x="296.18" y="356.8" font-size="5.2" text-anchor="end" transform="rotate(-45 296.18 356.8)">NOMO</text>
<text x="305.84" y="356.8" font-size="5.2" text-anchor="end" transform="rotate(-45 305.84 356.8)">THP-1</text>
<text x="315.5" y="356.8" font-size="5.2" text-anchor="end" transform="rotate(-45 315.5 356.8)">SHI-1</text>
<text x="325.16" y="356.8" font-size="5.2" text-anchor="end" transform="rotate(-45 325.16 356.8)">ML-2</text>
<text x="334.82" y="356.8" font-size="5.2" text-anchor="end" transform="rotate(-45 334.82 356.8)">HEL</text>
<text x="344.48" y="356.8" font-size="5.2" text-anchor="end" transform="rotate(-45 344.48 356.8)">Kasumi</text>
<text x="354.14" y="356.8" font-size="5.2" text-anchor="end" transform="rotate(-45 354.14 356.8)">K562</text>
<text x="363.8" y="356.8" font-size="5.2" text-anchor="end" transform="rotate(-45 363.8 356.8)">NB4</text>
<text x="373.46" y="356.8" font-size="5.2" text-anchor="end" transform="rotate(-45 373.46 356.8)">HL60</text>
<line x1="263.8" y1="324.06" x2="263.8" y2="309.21" stroke="#3a3a3a" stroke-width="1.15"/>
<line x1="261.8" y1="309.21" x2="265.8" y2="309.21" stroke="#3a3a3a" stroke-width="1.15"/>
<line x1="273.46" y1="317.4" x2="273.46" y2="298.46" stroke="#3a3a3a" stroke-width="1.15"/>
<line x1="271.46" y1="298.46" x2="275.46" y2="298.46" stroke="#3a3a3a" stroke-width="1.15"/>
<line x1="283.12" y1="300.51" x2="283.12" y2="272.86" stroke="#3a3a3a" stroke-width="1.15"/>
<line x1="281.12" y1="272.86" x2="285.12" y2="272.86" stroke="#3a3a3a" stroke-width="1.15"/>
<line x1="312.1" y1="337.12" x2="312.1" y2="334.81" stroke="#3a3a3a" stroke-width="1.15"/>
<line x1="310.1" y1="334.81" x2="314.1" y2="334.81" stroke="#3a3a3a" stroke-width="1.15"/>
<line x1="331.42" y1="327.39" x2="331.42" y2="318.43" stroke="#3a3a3a" stroke-width="1.15"/>
<line x1="329.42" y1="318.43" x2="333.42" y2="318.43" stroke="#3a3a3a" stroke-width="1.15"/>
<line x1="341.08" y1="330.2" x2="341.08" y2="322.01" stroke="#3a3a3a" stroke-width="1.15"/>
<line x1="339.08" y1="322.01" x2="343.08" y2="322.01" stroke="#3a3a3a" stroke-width="1.15"/>
<line x1="360.4" y1="319.96" x2="360.4" y2="301.53" stroke="#3a3a3a" stroke-width="1.15"/>
<line x1="358.4" y1="301.53" x2="362.4" y2="301.53" stroke="#3a3a3a" stroke-width="1.15"/>
<line x1="273.46" y1="339.68" x2="273.46" y2="332.25" stroke="#555" stroke-width="1.15"/>
<line x1="271.46" y1="332.25" x2="275.46" y2="332.25" stroke="#555" stroke-width="1.15"/>
<line x1="341.08" y1="344.8" x2="341.08" y2="343.52" stroke="#555" stroke-width="1.15"/>
<line x1="339.08" y1="343.52" x2="343.08" y2="343.52" stroke="#555" stroke-width="1.15"/>
<polyline points="263.8,345.82 273.46,339.68 283.12,344.54 292.78,343 302.44,343 312.1,343 321.76,344.03 331.42,346.59 341.08,344.8 350.74,347.1 360.4,346.33 370.06,347.1" stroke="#8d99cb" stroke-width="1" fill="none" stroke-linejoin="round"/>
<polyline points="263.8,324.06 273.46,317.4 283.12,300.51 292.78,339.42 302.44,337.88 312.1,337.12 321.76,345.82 331.42,327.39 341.08,330.2 350.74,347.1 360.4,319.96 370.06,347.1" stroke="#3a5897" stroke-width="1.1" fill="none" stroke-linejoin="round"/>
<circle cx="263.8" cy="345.82" r="2.05" fill="#7282bf"/>
<circle cx="273.46" cy="339.68" r="2.05" fill="#7282bf"/>
<circle cx="283.12" cy="344.54" r="2.05" fill="#7282bf"/>
<circle cx="292.78" cy="343" r="2.05" fill="#7282bf"/>
<circle cx="302.44" cy="343" r="2.05" fill="#7282bf"/>
<circle cx="312.1" cy="343" r="2.05" fill="#7282bf"/>
<circle cx="321.76" cy="344.03" r="2.05" fill="#7282bf"/>
<circle cx="331.42" cy="346.59" r="2.05" fill="#7282bf"/>
<circle cx="341.08" cy="344.8" r="2.05" fill="#7282bf"/>
<circle cx="350.74" cy="347.1" r="2.05" fill="#7282bf"/>
<circle cx="360.4" cy="346.33" r="2.05" fill="#7282bf"/>
<circle cx="370.06" cy="347.1" r="2.05" fill="#7282bf"/>
<circle cx="263.8" cy="324.06" r="2.05" fill="#1c3674"/>
<circle cx="273.46" cy="317.4" r="2.05" fill="#1c3674"/>
<circle cx="283.12" cy="300.51" r="2.05" fill="#1c3674"/>
<circle cx="292.78" cy="339.42" r="2.05" fill="#1c3674"/>
<circle cx="302.44" cy="337.88" r="2.05" fill="#1c3674"/>
<circle cx="312.1" cy="337.12" r="2.05" fill="#1c3674"/>
<circle cx="321.76" cy="345.82" r="2.05" fill="#1c3674"/>
<circle cx="331.42" cy="327.39" r="2.05" fill="#1c3674"/>
<circle cx="341.08" cy="330.2" r="2.05" fill="#1c3674"/>
<circle cx="350.74" cy="347.1" r="2.05" fill="#1c3674"/>
<circle cx="360.4" cy="319.96" r="2.05" fill="#1c3674"/>
<circle cx="370.06" cy="347.1" r="2.05" fill="#1c3674"/>
<line x1="330.2" y1="276.1" x2="344" y2="276.1" stroke="#8d99cb" stroke-width="1"/>
<circle cx="337.1" cy="276.1" r="2.05" fill="#7282bf"/>
<text x="347.1" y="278.1" font-size="5.2">miR-196b</text>
<line x1="330.2" y1="284.8" x2="344" y2="284.8" stroke="#3a5897" stroke-width="1.1"/>
<circle cx="337.1" cy="284.8" r="2.05" fill="#1c3674"/>
<text x="347.1" y="286.8" font-size="5.2">HOXA10</text>
<text x="241.6" y="307.4" font-size="7" text-anchor="middle" textLength="19.4" lengthAdjust="spacingAndGlyphs" transform="rotate(-90 241.6 307.4)" style="stroke-width:0.16px">% of HK</text>
<polyline points="258.3,376.9 258.3,381.7 320.2,381.7 320.2,376.9" stroke="#222" stroke-width="1.05" fill="none" stroke-linejoin="round"/>
<polyline points="330.2,376.9 330.2,381.7 371.4,381.7 371.4,376.9" stroke="#222" stroke-width="1.05" fill="none" stroke-linejoin="round"/>
<text x="289.4" y="389" font-size="5.2" text-anchor="middle">KMT2A-r</text>
<text x="351" y="389" font-size="5.2" text-anchor="middle">non-KMT2A-r</text>
<line x1="393.8" y1="267.2" x2="393.8" y2="348.1" stroke="#1a1a1a" stroke-width="1.25"/>
<line x1="390.8" y1="347.5" x2="393.8" y2="347.5" stroke="#1a1a1a" stroke-width="0.9"/>
<text x="387.7" y="349.37" font-size="5.2" text-anchor="end">0</text>
<line x1="390.8" y1="332" x2="393.8" y2="332" stroke="#1a1a1a" stroke-width="0.9"/>
<text x="387.7" y="333.87" font-size="5.2" text-anchor="end">2</text>
<line x1="390.8" y1="316.5" x2="393.8" y2="316.5" stroke="#1a1a1a" stroke-width="0.9"/>
<text x="387.7" y="318.37" font-size="5.2" text-anchor="end">4</text>
<line x1="390.8" y1="301" x2="393.8" y2="301" stroke="#1a1a1a" stroke-width="0.9"/>
<text x="387.7" y="302.87" font-size="5.2" text-anchor="end">6</text>
<line x1="390.8" y1="285.5" x2="393.8" y2="285.5" stroke="#1a1a1a" stroke-width="0.9"/>
<text x="387.7" y="287.37" font-size="5.2" text-anchor="end">8</text>
<line x1="390.8" y1="270" x2="393.8" y2="270" stroke="#1a1a1a" stroke-width="0.9"/>
<text x="387.7" y="271.87" font-size="5.2" text-anchor="end">10</text>
<line x1="393.2" y1="347.5" x2="445.8" y2="347.5" stroke="#1a1a1a" stroke-width="1.3"/>
<line x1="406.5" y1="347.5" x2="406.5" y2="350.1" stroke="#1a1a1a" stroke-width="0.9"/>
<line x1="432.5" y1="347.5" x2="432.5" y2="350.1" stroke="#1a1a1a" stroke-width="0.9"/>
<circle cx="406.5" cy="276.9" r="2.05" fill="#1c3674"/>
<circle cx="406.5" cy="312.3" r="2.05" fill="#1c3674"/>
<circle cx="399.9" cy="331.8" r="2.05" fill="#1c3674"/>
<circle cx="404.2" cy="335.4" r="2.05" fill="#1c3674"/>
<circle cx="408.5" cy="335.4" r="2.05" fill="#1c3674"/>
<circle cx="413.2" cy="333.5" r="2.05" fill="#1c3674"/>
<circle cx="406.5" cy="344.6" r="2.05" fill="#1c3674"/>
<rect x="430.8" y="304.7" width="3.8" height="3.8" fill="#1c3674"/>
<rect x="427.3" y="315" width="3.8" height="3.8" fill="#1c3674"/>
<rect x="433.6" y="318.9" width="3.8" height="3.8" fill="#1c3674"/>
<rect x="427.3" y="345.3" width="3.8" height="3.8" fill="#1c3674"/>
<rect x="433.6" y="345.3" width="3.8" height="3.8" fill="#1c3674"/>
<line x1="398" y1="324.2" x2="415" y2="324.2" stroke="#222" stroke-width="1.3"/>
<line x1="424.2" y1="328" x2="440.8" y2="328" stroke="#222" stroke-width="1.3"/>
<polyline points="407,272.8 407,268.2 433,268.2 433,304.6" stroke="#222" stroke-width="1.05" fill="none" stroke-linejoin="round"/>
<text x="420" y="263.6" font-size="5.2" text-anchor="middle">ns</text>
<text x="409.6" y="356.5" font-size="5.2" text-anchor="end" transform="rotate(-45 409.6 356.5)">KMT2A+</text>
<text x="435.8" y="356.5" font-size="5.2" text-anchor="end" transform="rotate(-45 435.8 356.5)">non-KMT2A+</text>
<line x1="460.5" y1="267.4" x2="460.5" y2="348.1" stroke="#1a1a1a" stroke-width="1.25"/>
<line x1="457.5" y1="347.5" x2="460.5" y2="347.5" stroke="#1a1a1a" stroke-width="0.9"/>
<text x="454.4" y="349.37" font-size="5.2" text-anchor="end">0</text>
<line x1="457.5" y1="328.1" x2="460.5" y2="328.1" stroke="#1a1a1a" stroke-width="0.9"/>
<text x="454.4" y="329.97" font-size="5.2" text-anchor="end">1</text>
<line x1="457.5" y1="308.7" x2="460.5" y2="308.7" stroke="#1a1a1a" stroke-width="0.9"/>
<text x="454.4" y="310.57" font-size="5.2" text-anchor="end">2</text>
<line x1="457.5" y1="289.3" x2="460.5" y2="289.3" stroke="#1a1a1a" stroke-width="0.9"/>
<text x="454.4" y="291.17" font-size="5.2" text-anchor="end">3</text>
<line x1="457.5" y1="269.9" x2="460.5" y2="269.9" stroke="#1a1a1a" stroke-width="0.9"/>
<text x="454.4" y="271.77" font-size="5.2" text-anchor="end">4</text>
<line x1="459.9" y1="347.5" x2="512.3" y2="347.5" stroke="#1a1a1a" stroke-width="1.3"/>
<line x1="473.5" y1="347.5" x2="473.5" y2="350.1" stroke="#1a1a1a" stroke-width="0.9"/>
<line x1="500" y1="347.5" x2="500" y2="350.1" stroke="#1a1a1a" stroke-width="0.9"/>
<circle cx="473.5" cy="291.8" r="2.05" fill="#7282bf"/>
<circle cx="470.8" cy="331.5" r="2.05" fill="#7282bf"/>
<circle cx="472.6" cy="335.1" r="2.05" fill="#7282bf"/>
<circle cx="476.9" cy="333.5" r="2.05" fill="#7282bf"/>
<circle cx="475.4" cy="337.4" r="2.05" fill="#7282bf"/>
<circle cx="468" cy="338.8" r="2.05" fill="#7282bf"/>
<circle cx="473.8" cy="344.6" r="2.05" fill="#7282bf"/>
<circle cx="479.7" cy="343.8" r="2.05" fill="#7282bf"/>
<rect x="498.1" y="330.7" width="3.8" height="3.8" fill="#7282bf"/>
<rect x="491.7" y="340.5" width="3.8" height="3.8" fill="#7282bf"/>
<rect x="494.7" y="341" width="3.8" height="3.8" fill="#7282bf"/>
<rect x="501.5" y="341" width="3.8" height="3.8" fill="#7282bf"/>
<rect x="504.1" y="340.5" width="3.8" height="3.8" fill="#7282bf"/>
<rect x="495.7" y="343.3" width="3.8" height="3.8" fill="#7282bf"/>
<rect x="499.9" y="343.3" width="3.8" height="3.8" fill="#7282bf"/>
<rect x="497.7" y="344.7" width="3.8" height="3.8" fill="#7282bf"/>
<rect x="497.7" y="345.9" width="3.8" height="3.8" fill="#7282bf"/>
<line x1="465.4" y1="332.3" x2="482.3" y2="332.3" stroke="#222" stroke-width="1.3"/>
<line x1="491.5" y1="343.5" x2="507.7" y2="343.5" stroke="#222" stroke-width="1.3"/>
<polyline points="474.2,290.3 474.2,278.5 499.7,278.5 499.7,330" stroke="#222" stroke-width="1.05" fill="none" stroke-linejoin="round"/>
<text x="487" y="275" font-size="5.2" text-anchor="middle">ns</text>
<text x="477" y="356.5" font-size="5.2" text-anchor="end" transform="rotate(-45 477 356.5)">KMT2A+</text>
<text x="504.3" y="356.5" font-size="5.2" text-anchor="end" transform="rotate(-45 504.3 356.5)">non-KMT2A+</text>
</svg></div></body></html>
